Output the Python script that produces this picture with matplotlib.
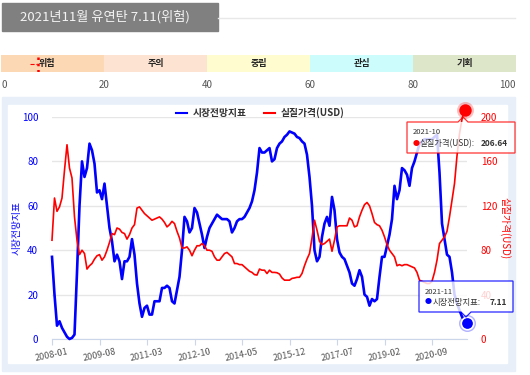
import numpy as np
import matplotlib.pyplot as plt
from matplotlib.patches import Rectangle, Polygon
from matplotlib.lines import Line2D

plt.rcParams['font.family'] = ['Noto Sans CJK KR', 'DejaVu Sans']

# 시장전망지표: 2008-01 ~ 2021-11 (월별)
outlook = [37, 20, 6, 8, 5, 3, 1, 0, 0.5, 2,
           30, 60, 80, 73, 77, 88, 85, 79, 66, 67,
           63, 70, 60, 50, 44, 35, 38, 35, 27, 35,
           35, 37, 45, 38, 25, 16, 10, 14, 15, 11,
           11, 17, 17, 17, 23, 23, 24, 23, 17, 16,
           22, 28, 40, 55, 53, 48, 50, 59, 57, 52,
           47, 41, 46, 50, 52, 54, 56, 55, 54, 54,
           54, 53, 48, 50, 53, 54, 54, 55, 57, 59,
           62, 67, 75, 86, 84, 84, 85, 86, 80, 81,
           86, 88, 89, 91, 92, 93.5, 93, 92.5, 91, 90.5,
           89, 88, 83, 73, 60, 40, 35, 37, 46, 52,
           55, 51, 64, 58, 45, 39, 37, 36, 33, 30,
           25, 24, 27, 31, 28, 20, 19, 15, 18, 17,
           18, 28, 37, 37, 42, 47, 54, 69, 63, 67,
           77, 76, 74, 69, 77, 80, 84, 88, 89, 90,
           90, 90, 90, 91, 92, 75, 52, 45, 38, 37,
           30, 20, 16, 13, 10, 8, 7.11]

# 실질가격(USD): 2008-01 ~ 2021-10 (월별)
price = [89, 127, 115, 119, 127, 152, 175, 154, 145, 110,
         89, 76, 80, 77, 63, 66, 68, 72, 75, 76,
         71, 74, 80, 87, 95, 94, 100, 99, 96, 95,
         90, 94, 100, 103, 118, 119, 116, 113, 111, 109,
         107, 108, 109, 110, 108, 105, 101, 103, 106, 104,
         97, 91, 82, 82, 83, 80, 75, 80, 84, 84,
         86, 84, 80, 80, 79, 74, 71, 71, 74, 77,
         78, 76, 74, 68, 68, 67, 67, 65, 63, 61,
         60, 58, 57.6, 63, 62, 62, 59, 62, 60, 60,
         59.7, 58.5, 55, 53, 53, 53, 54.6, 55, 55.6, 55.6,
         59, 66, 72, 77, 91, 107, 98, 88, 85, 86,
         88, 90, 79, 89, 101, 102, 102, 102, 102, 109,
         107, 101, 102, 110, 116, 121, 123, 120, 113, 105,
         103, 102, 98, 92, 85, 80, 77, 74, 66, 67,
         66, 67, 67, 66, 65, 64, 60, 53, 52, 51,
         50, 50, 52, 60, 71, 86, 89, 92, 97, 110,
         125, 140, 165, 185, 198, 206.64]

tick_labels = ['2008-01', '2009-08', '2011-03', '2012-10', '2014-05',
               '2015-12', '2017-07', '2019-02', '2020-09']
tick_step = 19

gauge_names = ['위험', '주의', '중립', '관심', '기회']
gauge_edges = [0, 20, 40, 60, 80, 100]
gauge_colors = ['#fcd8b4', '#fde3d1', '#fffdd0', '#ccfcfc', '#dde6c8']

W, H = 530, 375
BLUE, RED = '#0000ff', '#ff0000'

fig = plt.figure(figsize=(W / 100, H / 100), dpi=100)


def box(x, y, w, h):
    # 픽셀 좌표(왼쪽 위 기준) -> figure 비율
    return [x / W, 1 - (y + h) / H, w / W, h / H]


# 배경 레이어 (픽셀 좌표)
bg = fig.add_axes([0, 0, 1, 1])
bg.set_xlim(0, W)
bg.set_ylim(H, 0)
bg.axis('off')
bg.add_patch(Rectangle((2, 3), 216, 28, color='#808080'))
bg.text(105, 16.5, f'2021년11월 유연탄 {outlook[-1]}(위험)', color='#f4f4f4',
        fontsize=9.5, ha='center', va='center')
bg.plot([218, 515], [18, 18], color='#e8e8e8', lw=1)
bg.add_patch(Rectangle((2, 97), 513, 274, color='#e8eff8'))
bg.add_patch(Rectangle((8, 105), 499, 258, color='white'))

# 게이지 바
gx = fig.add_axes(box(1, 55, 515, 17))
for i, name in enumerate(gauge_names):
    gx.barh(0.5, gauge_edges[i + 1] - gauge_edges[i], left=gauge_edges[i],
            height=1, color=gauge_colors[i], edgecolor='none')
    cx = (gauge_edges[i] + gauge_edges[i + 1]) / 2
    if i == 0:
        cx = 9
    gx.text(cx, 0.5, name, ha='center', va='center', fontsize=6.5,
            color='#222222', fontweight='bold')
gx.plot([outlook[-1], outlook[-1]], [0, 1], color=RED, lw=1.8, ls=(0, (1, 1.5)))
gx.plot([outlook[-1] - 1.4, outlook[-1] - 0.2], [0.5, 0.5], color=RED, lw=0.8, ls='--')
gx.set_xlim(0, 100)
gx.set_ylim(0, 1)
gx.set_yticks([])
gx.set_xticks(gauge_edges)
gx.set_xticklabels([str(v) for v in gauge_edges], fontsize=7, color='#555555')
gx.tick_params(axis='x', length=0, pad=6)
labs = gx.get_xticklabels()
labs[0].set_ha('left')
labs[-1].set_ha('right')
for s in gx.spines.values():
    s.set_visible(False)

# 메인 차트
ax = fig.add_axes(box(52, 117, 415, 222))
ax.patch.set_alpha(0)
x_out = np.arange(len(outlook))
x_pr = np.arange(len(price))
ax.plot(x_out, outlook, color=BLUE, lw=1.9, clip_on=False, zorder=3)
ax.set_xlim(0, len(outlook) - 1)
ax.set_ylim(0, 100)
ax.set_yticks(range(0, 101, 20))
ax.grid(axis='y', color='#e6e6e6', lw=1)
ax.tick_params(axis='y', length=0, pad=10, labelsize=7, labelcolor=BLUE)
ax.set_xticks(np.arange(len(tick_labels)) * tick_step)
ax.set_xticklabels(tick_labels, rotation=12, ha='center', fontsize=6.5, color='#555555')
ax.tick_params(axis='x', length=4, color='#ccd6eb', pad=2)
for k, s in ax.spines.items():
    s.set_visible(k == 'bottom')
ax.spines['bottom'].set_color('#ccd6eb')
ax.set_axisbelow(True)

ax2 = ax.twinx()
ax2.plot(x_pr, price, color=RED, lw=1.2, clip_on=False, zorder=3)
ax2.set_ylim(0, 200)
ax2.set_yticks(range(0, 201, 40))
ax2.tick_params(axis='y', length=0, pad=10, labelsize=7, labelcolor=RED)
for s in ax2.spines.values():
    s.set_visible(False)

# 마지막 포인트 마커
ax2.scatter([x_pr[-1]], [price[-1]], s=150, color=RED, alpha=0.25, clip_on=False, zorder=4, lw=0)
ax2.scatter([x_pr[-1]], [price[-1]], s=80, color=RED, clip_on=False, zorder=5, lw=0)
ax.scatter([x_out[-1]], [outlook[-1]], s=150, color=BLUE, alpha=0.3, clip_on=False, zorder=4, lw=0)
ax.scatter([x_out[-1]], [outlook[-1]], s=80, color=BLUE, clip_on=False, zorder=5,
           edgecolor='white', lw=1.2)
ax.scatter([x_out[-1]], [outlook[-1]], s=25, color=BLUE, clip_on=False, zorder=6, lw=0)

# 축 제목 / 범례
fig.text(17 / W, 1 - 228 / H, '시장전망지표', rotation=90, color=BLUE,
         fontsize=7, ha='center', va='center')
fig.text(505 / W, 1 - 228 / H, '실질가격(USD)', rotation=270, color=RED,
         fontsize=7, ha='center', va='center')
handles = [Line2D([], [], color=BLUE, lw=1.5), Line2D([], [], color=RED, lw=1.5)]
leg = ax.legend(handles, ['시장전망지표', '실질가격(USD)'], loc='center',
                bbox_to_anchor=(260 / W, 1 - 113 / H), bbox_transform=fig.transFigure,
                ncol=2, frameon=False, handlelength=1.2, columnspacing=1.8,
                handletextpad=0.5, prop={'size': 7, 'weight': 'bold'})
for t in leg.get_texts():
    t.set_color('#333333')

# 툴팁 (픽셀 좌표)
top = fig.add_axes([0, 0, 1, 1])
top.set_xlim(0, W)
top.set_ylim(H, 0)
top.axis('off')
top.add_patch(Polygon([(407, 122), (515, 122), (515, 153), (407, 153)],
                      facecolor='white', alpha=0.82, edgecolor='none'))
top.add_patch(Polygon([(407, 122), (458, 122), (463, 117), (468, 122), (515, 122),
                       (515, 153), (407, 153)], closed=True, fill=False,
                      edgecolor=RED, lw=0.9, alpha=0.8))
top.text(413, 134.5, '2021-10', fontsize=5.5, color='#333333', va='baseline')
top.text(413, 145.5, '●', fontsize=5, color=RED, va='baseline')
top.text(420, 146, '실질가격(USD):', fontsize=6, color='#333333', va='baseline')
top.text(481, 146, f'{price[-1]:.2f}', fontsize=6, color='#333333', va='baseline',
         fontweight='bold')

top.add_patch(Polygon([(419, 281), (513, 281), (513, 312), (419, 312)],
                      facecolor='white', alpha=0.82, edgecolor='none'))
top.add_patch(Polygon([(419, 281), (513, 281), (513, 312), (471, 312), (466, 317),
                       (461, 312), (419, 312)], closed=True, fill=False,
                      edgecolor=BLUE, lw=0.9, alpha=0.85))
top.text(425, 293.5, '2021-11', fontsize=5.5, color='#333333', va='baseline')
top.text(425, 304.5, '●', fontsize=5, color=BLUE, va='baseline')
top.text(433, 305, '시장전망지표:', fontsize=6, color='#333333', va='baseline')
top.text(490, 305, f'{outlook[-1]}', fontsize=6, color='#333333', va='baseline',
         fontweight='bold')

fig.savefig('out.png', dpi=100)
